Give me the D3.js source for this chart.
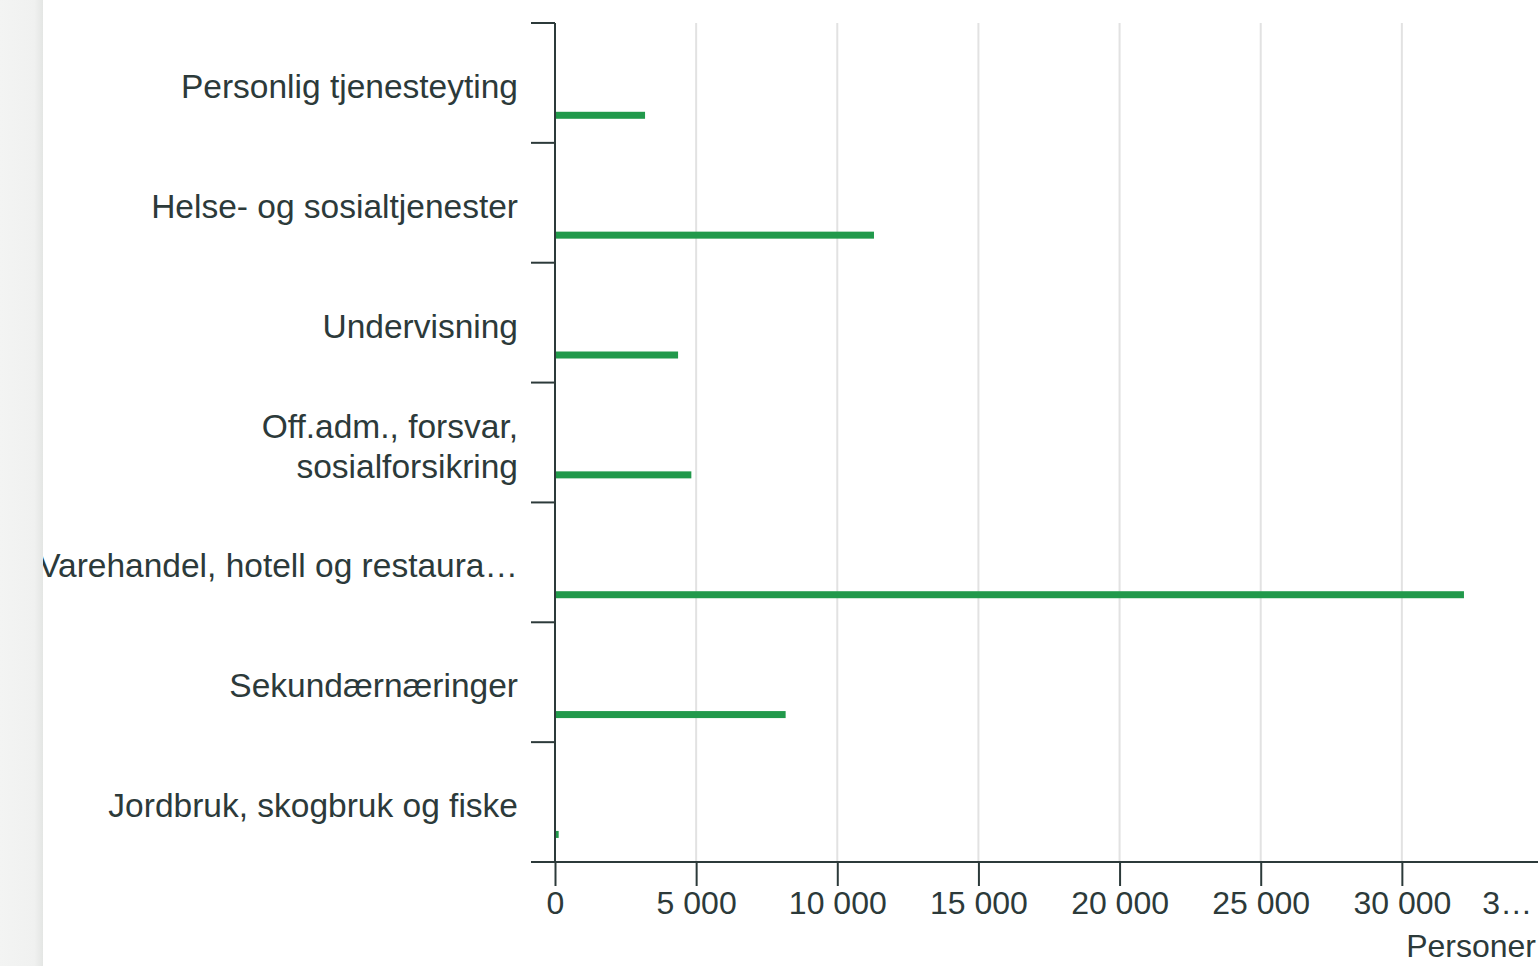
<!DOCTYPE html>
<html>
<head>
<meta charset="utf-8">
<script src="https://cdn.jsdelivr.net/npm/d3@7"></script>
<style>
  html, body { margin: 0; padding: 0; background: #fff; overflow: hidden; }
  svg { display: block; font-family: "Liberation Sans", Arial, sans-serif; }
</style>
</head>
<body>
<svg id="chart" width="1538" height="966"></svg>
<script>
// næringer, top to bottom
const categories = [
  "Personlig tjenesteyting",
  "Helse- og sosialtjenester",
  "Undervisning",
  "Off.adm., forsvar, sosialforsikring",
  "Varehandel, hotell og restaurantvirksomhet",
  "Sekundærnæringer",
  "Jordbruk, skogbruk og fiske"
];
// how the labels come out in the picture (wrapped / cut)
const labelLines = [
  ["Personlig tjenesteyting"],
  ["Helse- og sosialtjenester"],
  ["Undervisning"],
  ["Off.adm., forsvar,", "sosialforsikring"],
  ["Varehandel, hotell og restaura…"],
  ["Sekundærnæringer"],
  ["Jordbruk, skogbruk og fiske"]
];
const personer = [3190, 11300, 4360, 4830, 32200, 8170, 130];
const xTicks = [0, 5000, 10000, 15000, 20000, 25000, 30000, 35000];
const xTitle = "Personer";

const W = 1538, H = 966;
const clipLeft = 43;
const m = { top: 23, left: 555, bottom: 862, right: 1543 };
const green = "#21994b", ink = "#2c3a3a", grid = "#e2e2e2";

const svg = d3.select("#chart");

// grey side strip on the left
const defs = svg.append("defs");
const grad = defs.append("linearGradient").attr("id", "strip");
grad.append("stop").attr("offset", "0%").attr("stop-color", "#f3f4f3");
grad.append("stop").attr("offset", "80%").attr("stop-color", "#f0f1f0");
grad.append("stop").attr("offset", "100%").attr("stop-color", "#e4e6e4");
svg.append("rect").attr("width", clipLeft).attr("height", H).attr("fill", "url(#strip)");

defs.append("clipPath").attr("id", "pane")
  .append("rect").attr("x", clipLeft).attr("y", 0).attr("width", W - clipLeft).attr("height", H);

const g = svg.append("g").attr("clip-path", "url(#pane)");

const x = d3.scaleLinear().domain([0, 35000]).range([m.left, m.right]);
const y = d3.scaleBand().domain(categories).range([m.top, m.bottom]).padding(0);

// grid
g.append("g").selectAll("line")
  .data(xTicks.filter(d => d > 0))
  .join("line")
  .attr("x1", d => x(d)).attr("x2", d => x(d))
  .attr("y1", m.top).attr("y2", m.bottom)
  .attr("stroke", grid).attr("stroke-width", 2);

// bars
const barH = 7;
g.append("g").selectAll("rect")
  .data(categories)
  .join("rect")
  .attr("x", x(0))
  .attr("y", d => y(d) + y.bandwidth() * 0.77 - barH / 2)
  .attr("width", (d, i) => x(personer[i]) - x(0))
  .attr("height", barH)
  .attr("fill", green);

// y axis: line + ticks on band edges
const edges = categories.map(c => y(c)).concat([m.bottom]);
g.append("line")
  .attr("x1", m.left).attr("x2", m.left).attr("y1", m.top).attr("y2", m.bottom)
  .attr("stroke", ink).attr("stroke-width", 2);
g.append("g").selectAll("line")
  .data(edges)
  .join("line")
  .attr("x1", m.left - 24).attr("x2", m.left)
  .attr("y1", d => d).attr("y2", d => d)
  .attr("stroke", ink).attr("stroke-width", 2);

// category labels
const lab = g.append("g")
  .attr("font-size", 33.5).attr("fill", ink).attr("text-anchor", "end");
categories.forEach((c, i) => {
  const lines = labelLines[i];
  const cy = y(c) + y.bandwidth() / 2;
  const lh = 40;
  const t = lab.append("text").attr("x", m.left - 37);
  lines.forEach((ln, k) => {
    t.append("tspan")
      .attr("x", m.left - 37)
      .attr("y", cy - (lines.length - 1) * lh / 2 + k * lh)
      .attr("dy", "0.45em")
      .text(ln);
  });
});

// x axis
const nb = d3.formatLocale({ decimal: ",", thousands: "\u00a0", grouping: [3], currency: ["", ""] });
const xAxis = d3.axisBottom(x).tickValues(xTicks).tickSize(24).tickPadding(5).tickFormat(nb.format(",d"));
const xa = g.append("g").attr("transform", `translate(0,${m.bottom})`).call(xAxis);
xa.select(".domain").attr("stroke", ink).attr("stroke-width", 2).attr("d", `M${m.left - 24},0H${W + 10}`);
xa.selectAll(".tick line").attr("stroke", ink).attr("stroke-width", 2);
xa.selectAll(".tick text")
  .attr("font-size", 32).attr("fill", ink).attr("font-family", "\"Liberation Sans\", Arial, sans-serif")
  .each(function(d) {
    // shorten a label that runs past the right edge and keep it inside
    const el = d3.select(this);
    if (x(d) + this.getComputedTextLength() / 2 > W) {
      el.text(el.text().slice(0, 1) + "…")
        .attr("text-anchor", "start")
        .attr("x", x(30000) + 80 - x(d));
    }
  });

g.append("text")
  .attr("x", W - 2).attr("y", 957)
  .attr("text-anchor", "end").attr("font-size", 32).attr("fill", ink)
  .text(xTitle);
</script>
</body>
</html>
